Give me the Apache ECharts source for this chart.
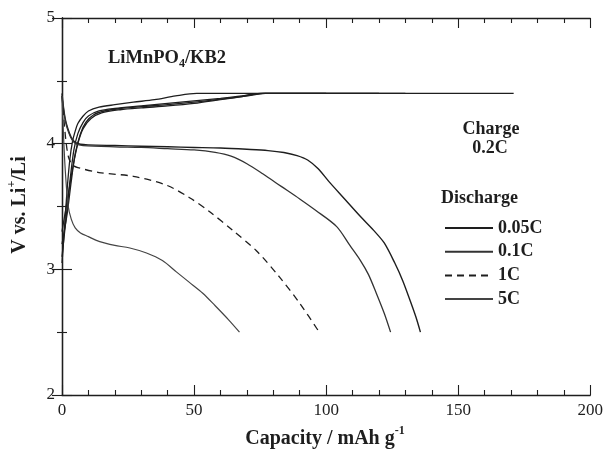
<!DOCTYPE html>
<html>
<head>
<meta charset="utf-8">
<script src="https://cdn.jsdelivr.net/npm/echarts@6/dist/echarts.min.js"></script>
<style>
html,body{margin:0;padding:0;background:#fff;}
#chart{width:606px;height:451px;}
</style>
</head>
<body>
<div id="chart"></div>
<script>
// ---- data (Capacity mAh/g, Voltage V) ----
const xTicks = [0, 50, 100, 150, 200];
const yTicks = [2, 3, 4, 5];
const legendNames = ['0.05C', '0.1C', '1C', '5C'];

const dis005 = [[0,4.40],[0.5,4.30],[1.2,4.20],[2.2,4.12],[3.5,4.05],[5,4.01],[7,3.995],[10,3.99],[20,3.985],[30,3.98],[40,3.975],[50,3.97],[60,3.965],[70,3.955],[78,3.945],[84,3.93],[89,3.905],[93,3.87],[97,3.80],[101,3.70],[107,3.56],[113,3.42],[118,3.31],[122,3.21],[126,3.05],[129,2.91],[132,2.74],[134,2.62],[135.7,2.50]];
const dis01 = [[0,4.38],[0.6,4.27],[1.4,4.17],[2.5,4.09],[3.8,4.03],[5.5,3.995],[8,3.985],[20,3.975],[30,3.97],[40,3.96],[50,3.95],[58,3.93],[64,3.90],[70,3.84],[76,3.76],[83,3.66],[90,3.56],[96,3.47],[104,3.34],[109,3.19],[113,3.07],[116,2.96],[119,2.81],[122,2.65],[124.4,2.50]];
const dis1 = [[0,4.38],[0.7,4.20],[1.5,4.02],[2.5,3.89],[4,3.83],[6,3.81],[14,3.77],[27,3.74],[39.5,3.67],[48.3,3.57],[55.8,3.46],[64.6,3.31],[73.5,3.15],[82.3,2.94],[90,2.73],[97.4,2.50]];
const dis5 = [[0,4.38],[0.5,4.10],[1.2,3.80],[2.3,3.51],[3.5,3.40],[5,3.33],[7,3.29],[10,3.26],[13,3.23],[16,3.21],[20,3.19],[25.7,3.17],[32,3.13],[38,3.07],[43.3,2.98],[48,2.90],[53.3,2.81],[58,2.71],[63,2.60],[67.2,2.50]];

const chg1 = [[0,3.05],[1,3.35],[2,3.65],[3,3.88],[4,4.02],[5,4.10],[6,4.16],[8,4.22],[10,4.26],[14,4.29],[20,4.31],[27,4.33],[35,4.35],[43,4.38],[51,4.40],[171,4.40]];
const chg2 = [[0,3.10],[1.5,3.40],[3,3.70],[4.5,3.95],[6,4.08],[8,4.17],[10,4.22],[14,4.26],[20,4.28],[30,4.30],[40,4.32],[50,4.34],[60,4.36],[68,4.38],[75,4.40],[120,4.40]];
const chg3 = [[0,3.20],[2,3.45],[3.5,3.70],[5,3.92],[7,4.08],[9,4.17],[12,4.23],[16,4.26],[22,4.28],[30,4.295],[40,4.31],[50,4.33],[60,4.355],[68,4.375],[76,4.40],[130,4.40]];
const chg4 = [[0,3.30],[2,3.55],[4,3.80],[6,4.00],[8,4.12],[11,4.20],[15,4.245],[22,4.27],[30,4.285],[40,4.30],[50,4.32],[60,4.35],[70,4.38],[77,4.40],[100,4.40]];

const FONT = '"Liberation Serif", "DejaVu Serif", serif';
const INK = '#1e1e1e';

const chart = echarts.init(document.getElementById('chart'), null, {renderer: 'canvas'});

function mkAxis(extra, split) {
  return Object.assign({
    type: 'value',
    axisLine: {show: true, lineStyle: {color: INK, width: 1.3}},
    axisTick: {show: true, inside: true, length: 10, lineStyle: {color: INK, width: 1.1}},
    minorTick: {show: true, splitNumber: split, length: 5, lineStyle: {color: INK, width: 1.1}},
    splitLine: {show: false},
    minorSplitLine: {show: false}
  }, extra);
}

function lineSeries(name, data, opts) {
  return Object.assign({
    name: name,
    type: 'line',
    data: data,
    showSymbol: false,
    symbol: 'none',
    smooth: 0.3,
    silent: true,
    animation: false,
    itemStyle: {color: INK},
    lineStyle: {color: INK, width: 1.3}
  }, opts || {});
}

const labelStyle = {color: INK, fontFamily: FONT, fontSize: 17, margin: 7};

const option = {
  backgroundColor: '#fff',
  animation: false,
  grid: {left: 62, right: 14, top: 18, bottom: 56, containLabel: false},
  xAxis: [
    mkAxis({min: 0, max: 200, interval: 50,
      axisLabel: Object.assign({formatter: v => xTicks.includes(v) ? String(v) : ''}, labelStyle)}, 5),
    mkAxis({min: 0, max: 200, interval: 50, position: 'top', axisLabel: {show: false}}, 5)
  ],
  yAxis: [
    mkAxis({min: 2, max: 5, interval: 1,
      axisLabel: Object.assign({formatter: v => yTicks.includes(v) ? String(v) : ''}, labelStyle)}, 2),
    mkAxis({min: 2, max: 5, interval: 1, position: 'right', axisLabel: {show: false}}, 2)
  ],
  legend: {
    data: legendNames,
    orient: 'vertical',
    left: 444,
    top: 219,
    padding: 0,
    itemWidth: 48,
    itemHeight: 14,
    itemGap: 5.7,
    selectedMode: false,
    itemStyle: {color: 'rgba(0,0,0,0)', borderWidth: 0, opacity: 0},
    textStyle: {color: INK, fontFamily: FONT, fontSize: 18, fontWeight: 'bold'}
  },
  graphic: [
    {type: 'text', x: 108, y: 58, style: {
      text: '{b|LiMnPO}{s|4}{b|/KB2}', fill: INK, verticalAlign: 'middle',
      rich: {
        b: {fontFamily: FONT, fontSize: 18.5, fontWeight: 'bold', fill: INK, lineHeight: 24, verticalAlign: 'middle'},
        s: {fontFamily: FONT, fontSize: 12, fontWeight: 'bold', fill: INK, lineHeight: 24, verticalAlign: 'bottom'}
      }}},
    {type: 'text', x: 491, y: 129, style: {text: 'Charge', font: 'bold 18px ' + FONT, fill: INK, align: 'center', verticalAlign: 'middle'}},
    {type: 'text', x: 490, y: 148, style: {text: '0.2C', font: 'bold 18px ' + FONT, fill: INK, align: 'center', verticalAlign: 'middle'}},
    {type: 'text', x: 441, y: 198, style: {text: 'Discharge', font: 'bold 18px ' + FONT, fill: INK, align: 'left', verticalAlign: 'middle'}},
    {type: 'text', x: 325, y: 437, style: {
      text: '{b|Capacity / mAh g}{s|-1}', fill: INK, align: 'center', verticalAlign: 'middle',
      rich: {
        b: {fontFamily: FONT, fontSize: 20, fontWeight: 'bold', fill: INK, lineHeight: 24, verticalAlign: 'bottom'},
        s: {fontFamily: FONT, fontSize: 12, fontWeight: 'bold', fill: INK, lineHeight: 24, verticalAlign: 'top'}
      }}},
    {type: 'text', x: 18, y: 205, rotation: Math.PI / 2, style: {
      text: '{b|V vs. Li}{s|+}{b|/Li}', fill: INK, align: 'center', verticalAlign: 'middle',
      rich: {
        b: {fontFamily: FONT, fontSize: 20, fontWeight: 'bold', fill: INK, lineHeight: 24, verticalAlign: 'bottom'},
        s: {fontFamily: FONT, fontSize: 12, fontWeight: 'bold', fill: INK, lineHeight: 24, verticalAlign: 'top'}
      }}}
  ],
  series: [
    lineSeries('charge1', chg1),
    lineSeries('charge2', chg2),
    lineSeries('charge3', chg3),
    lineSeries('charge4', chg4),
    lineSeries('0.05C', dis005, {lineStyle: {color: INK, width: 1.4}}),
    lineSeries('0.1C', dis01, {lineStyle: {color: '#333', width: 1.3}}),
    lineSeries('1C', dis1, {lineStyle: {color: INK, width: 1.3, type: [7, 5]}}),
    lineSeries('5C', dis5, {lineStyle: {color: '#444', width: 1.2}})
  ]
};
chart.setOption(option);
</script>
</body>
</html>
